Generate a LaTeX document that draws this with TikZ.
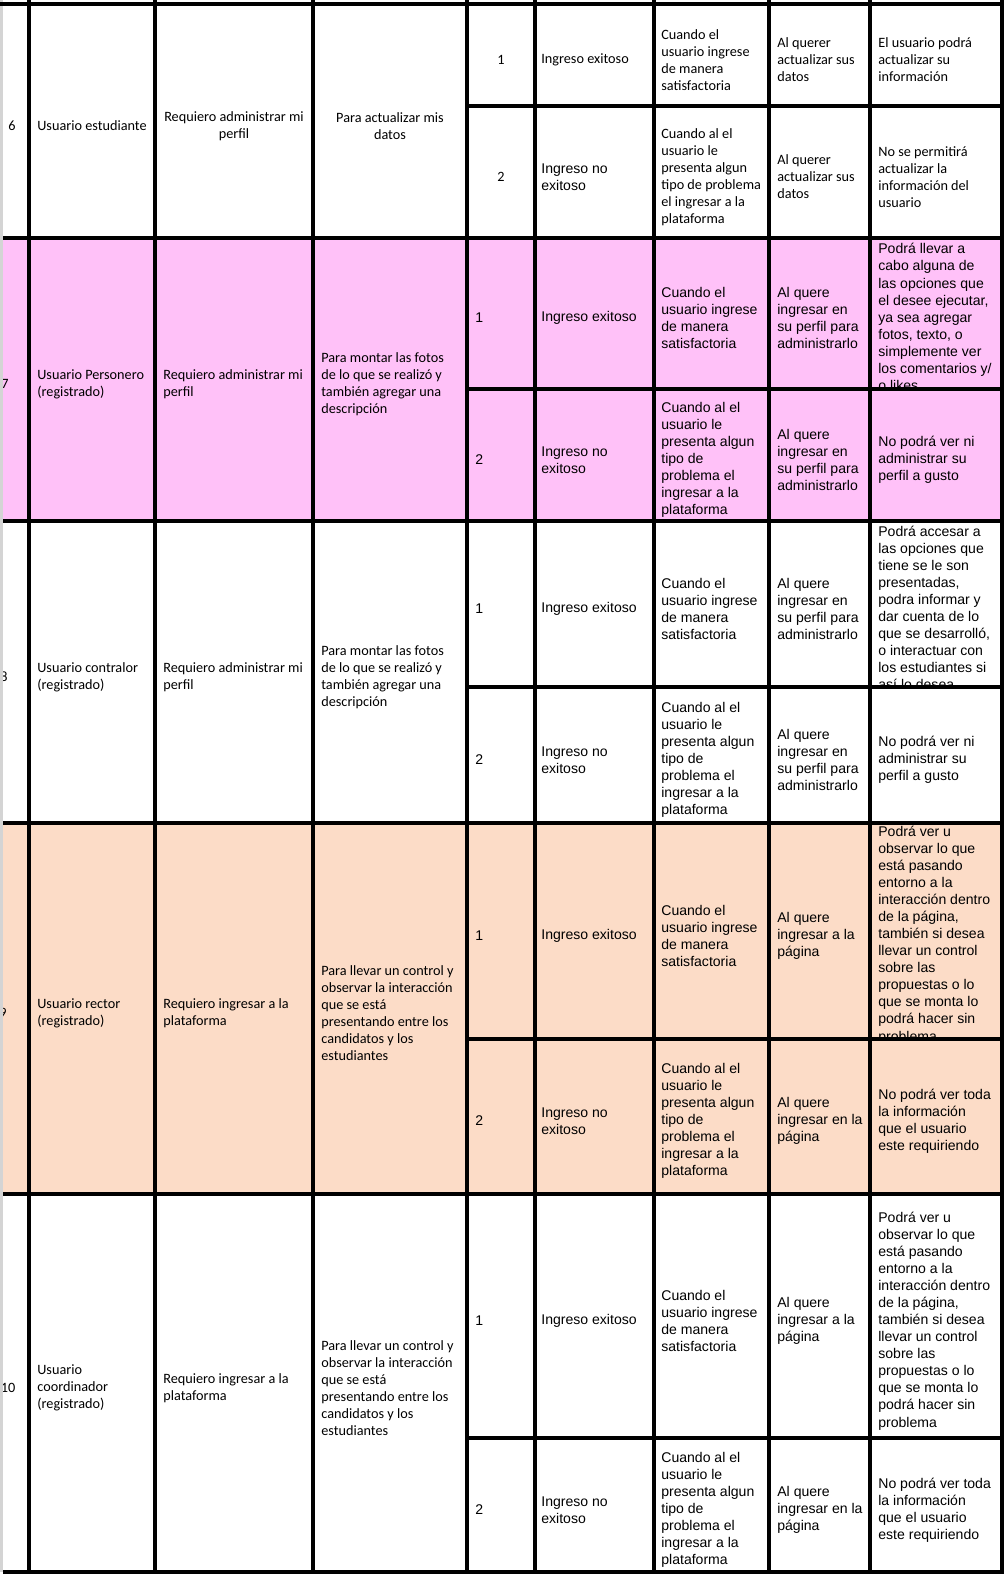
\documentclass[tikz,border=0pt]{standalone}
\usepackage{fontspec}
\setmainfont{Carlito}
\newfontfamily\arialfont{Liberation Sans}
\usepackage{xcolor}
\definecolor{personero}{RGB}{255,193,248}
\definecolor{rector}{RGB}{252,220,199}
\definecolor{edge}{RGB}{212,212,212}
\tikzset{
  cal/.style={font=\fontsize{8.1}{9.7}\selectfont, inner sep=0pt, align=left, anchor=west},
  calmid/.style={cal, align=center, anchor=center},
  ari/.style={font=\arialfont\fontsize{8}{9.7}\selectfont, inner sep=0pt, align=left, anchor=west},
  rule/.style={line width=2.1pt}
}
\begin{document}
\begin{tikzpicture}[x=0.2mm, y=-0.2mm]
\useasboundingbox (0,0) rectangle (1004,1581);
%
\fill[personero] (3,238) rectangle (1002,521);
\fill[rector] (3,823) rectangle (1002,1194);
%
% fila 6
\node[calmid] (r6num) at (12,126) {6};
\node[calmid] (r6who) at (92,126) {Usuario estudiante};
\node[calmid] (r6need) at (234,126) {Requiero administrar mi\\perfil};
\node[calmid] (r6why) at (390,126) {Para actualizar mis\\datos};
\node[calmid] (r6an) at (501,60) {1};
\node[cal] (r6ares) at (541,60) {Ingreso exitoso};
\node[cal] (r6awhen) at (661,60) {Cuando el\\usuario ingrese\\de manera\\satisfactoria};
\node[cal] (r6aact) at (777,60) {Al querer\\actualizar sus\\datos};
\node[cal] (r6aout) at (878,60) {El usuario podrá\\actualizar su\\información};
\node[calmid] (r6bn) at (501,177) {2};
\node[ari] (r6bres) at (541,177) {Ingreso no\\exitoso};
\node[cal] (r6bwhen) at (661,177) {Cuando al el\\usuario le\\presenta algun\\tipo de problema\\el ingresar a la\\plataforma};
\node[cal] (r6bact) at (777,177) {Al querer\\actualizar sus\\datos};
\node[cal] (r6bout) at (878,177) {No se permitirá\\actualizar la\\información del\\usuario};
%
% fila 7
\node[cal] (r7num) at (1,384) {7};
\node[cal] (r7who) at (37,384) {Usuario Personero\\(registrado)};
\node[cal] (r7need) at (163,384) {Requiero administrar mi\\perfil};
\node[cal] (r7why) at (321,384) {Para montar las fotos\\de lo que se realizó y\\también agregar una\\descripción};
\node[ari] (r7an) at (475,318) {1};
\node[ari] (r7ares) at (541,318) {Ingreso exitoso};
\node[ari] (r7awhen) at (661,318) {Cuando el\\usuario ingrese\\de manera\\satisfactoria};
\node[ari] (r7aact) at (777,318) {Al quere\\ingresar en\\su perfil para\\administrarlo};
\begin{scope}
\clip (870,238) rectangle (1002,389);
\node[ari] (r7aout) at (878,317) {Podrá llevar a\\cabo alguna de\\las opciones que\\el desee ejecutar,\\ya sea agregar\\fotos, texto, o\\simplemente ver\\los comentarios y/\\o likes};
\end{scope}
\node[ari] (r7bn) at (475,460) {2};
\node[ari] (r7bres) at (541,460) {Ingreso no\\exitoso};
\node[ari] (r7bwhen) at (661,460) {Cuando al el\\usuario le\\presenta algun\\tipo de\\problema el\\ingresar a la\\plataforma};
\node[ari] (r7bact) at (777,460) {Al quere\\ingresar en\\su perfil para\\administrarlo};
\node[ari] (r7bout) at (878,460) {No podrá ver ni\\administrar su\\perfil a gusto};
%
% fila 8
\node[cal] (r8num) at (0,677) {8};
\node[cal] (r8who) at (37,677) {Usuario contralor\\(registrado)};
\node[cal] (r8need) at (163,677) {Requiero administrar mi\\perfil};
\node[cal] (r8why) at (321,677) {Para montar las fotos\\de lo que se realizó y\\también agregar una\\descripción};
\node[ari] (r8an) at (475,609) {1};
\node[ari] (r8ares) at (541,609) {Ingreso exitoso};
\node[ari] (r8awhen) at (661,609) {Cuando el\\usuario ingrese\\de manera\\satisfactoria};
\node[ari] (r8aact) at (777,609) {Al quere\\ingresar en\\su perfil para\\administrarlo};
\begin{scope}
\clip (870,521) rectangle (1002,687);
\node[ari] (r8aout) at (878,608) {Podrá accesar a\\las opciones que\\tiene se le son\\presentadas,\\podra informar y\\dar cuenta de lo\\que se desarrolló,\\o interactuar con\\los estudiantes si\\así lo desea};
\end{scope}
\node[ari] (r8bn) at (475,760) {2};
\node[ari] (r8bres) at (541,760) {Ingreso no\\exitoso};
\node[ari] (r8bwhen) at (661,760) {Cuando al el\\usuario le\\presenta algun\\tipo de\\problema el\\ingresar a la\\plataforma};
\node[ari] (r8bact) at (777,760) {Al quere\\ingresar en\\su perfil para\\administrarlo};
\node[ari] (r8bout) at (878,760) {No podrá ver ni\\administrar su\\perfil a gusto};
%
% fila 9
\node[cal] (r9num) at (-1,1013) {9};
\node[cal] (r9who) at (37,1013) {Usuario rector\\(registrado)};
\node[cal] (r9need) at (163,1013) {Requiero ingresar a la\\plataforma};
\node[cal] (r9why) at (321,1013) {Para llevar un control y\\observar la interacción\\que se está\\presentando entre los\\candidatos y los\\estudiantes};
\node[ari] (r9an) at (475,936) {1};
\node[ari] (r9ares) at (541,936) {Ingreso exitoso};
\node[ari] (r9awhen) at (661,936) {Cuando el\\usuario ingrese\\de manera\\satisfactoria};
\node[ari] (r9aact) at (777,936) {Al quere\\ingresar a la\\página};
\begin{scope}
\clip (870,823) rectangle (1002,1039);
\node[ari] (r9aout) at (878,935) {Podrá ver u\\observar lo que\\está pasando\\entorno a la\\interacción dentro\\de la página,\\también si desea\\llevar un control\\sobre las\\propuestas o lo\\que se monta lo\\podrá hacer sin\\problema};
\end{scope}
\node[ari] (r9bn) at (475,1121) {2};
\node[ari] (r9bres) at (541,1121) {Ingreso no\\exitoso};
\node[ari] (r9bwhen) at (661,1121) {Cuando al el\\usuario le\\presenta algun\\tipo de\\problema el\\ingresar a la\\plataforma};
\node[ari] (r9bact) at (777,1121) {Al quere\\ingresar en la\\página};
\node[ari] (r9bout) at (878,1121) {No podrá ver toda\\la información\\que el usuario\\este requiriendo};
%
% fila 10
\node[cal] (r10num) at (0.5,1388) {10};
\node[cal] (r10who) at (37,1388) {Usuario\\coordinador\\(registrado)};
\node[cal] (r10need) at (163,1388) {Requiero ingresar a la\\plataforma};
\node[cal] (r10why) at (321,1388) {Para llevar un control y\\observar la interacción\\que se está\\presentando entre los\\candidatos y los\\estudiantes};
\node[ari] (r10an) at (475,1321) {1};
\node[ari] (r10ares) at (541,1321) {Ingreso exitoso};
\node[ari] (r10awhen) at (661,1321) {Cuando el\\usuario ingrese\\de manera\\satisfactoria};
\node[ari] (r10aact) at (777,1321) {Al quere\\ingresar a la\\página};
\node[ari] (r10aout) at (878,1321) {Podrá ver u\\observar lo que\\está pasando\\entorno a la\\interacción dentro\\de la página,\\también si desea\\llevar un control\\sobre las\\propuestas o lo\\que se monta lo\\podrá hacer sin\\problema};
\node[ari] (r10bn) at (475,1510) {2};
\node[ari] (r10bres) at (541,1510) {Ingreso no\\exitoso};
\node[ari] (r10bwhen) at (661,1510) {Cuando al el\\usuario le\\presenta algun\\tipo de\\problema el\\ingresar a la\\plataforma};
\node[ari] (r10bact) at (777,1510) {Al quere\\ingresar en la\\página};
\node[ari] (r10bout) at (878,1510) {No podrá ver toda\\la información\\que el usuario\\este requiriendo};
%
% borde gris de la hoja
\fill[edge] (0,0) rectangle (2.5,1572);
%
% lineas de la tabla
\draw[rule] (29,0) -- (29,1572) (155,0) -- (155,1572) (313,0) -- (313,1572)
  (467,0) -- (467,1572) (535,0) -- (535,1572) (654,0) -- (654,1572)
  (769,0) -- (769,1572) (870,0) -- (870,1572) (1002,0) -- (1002,1572);
\draw[rule] (0,4) -- (1004,4) (3,238) -- (1004,238) (3,521) -- (1004,521)
  (3,823) -- (1004,823) (3,1194) -- (1004,1194) (3,1572) -- (1004,1572);
\draw[rule] (467,106) -- (1002,106) (467,389) -- (1002,389) (467,687) -- (1002,687)
  (467,1039) -- (1002,1039) (467,1438) -- (1002,1438);
\end{tikzpicture}
\end{document}
